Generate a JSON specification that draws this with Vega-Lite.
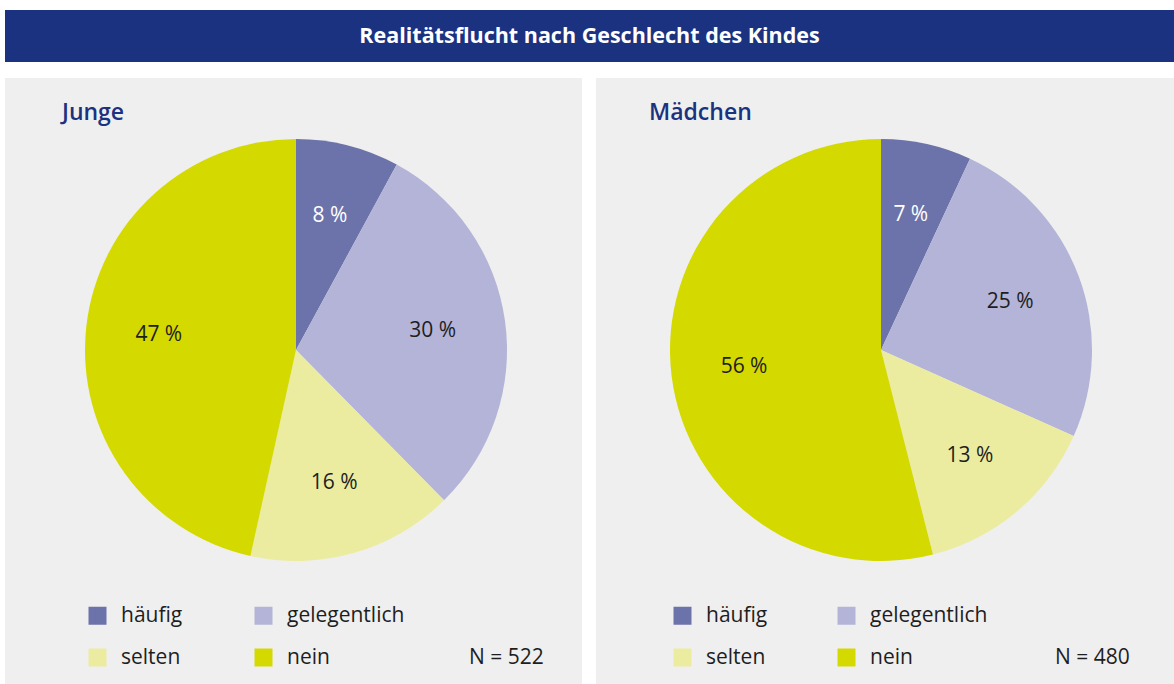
{
  "$schema": "https://vega.github.io/schema/vega-lite/v6.json",
  "padding": {"left": 5, "top": 10, "right": 0, "bottom": 0},
  "background": "white",
  "config": {"view": {"stroke": null}, "font": "Open Sans", "title": {"font": "Open Sans"}},
  "spacing": 16,
  "vconcat": [
    {
      "width": 1169,
      "height": 52,
      "view": {"fill": "#1b3281", "stroke": null},
      "data": {"values": [{"titel": "Realitätsflucht nach Geschlecht des Kindes"}]},
      "mark": {"type": "text", "color": "#ffffff", "fontSize": 21.5, "fontWeight": "bold", "baseline": "middle", "align": "center", "font": "Open Sans", "dy": 1},
      "encoding": {"text": {"field": "titel", "type": "nominal"}}
    },
    {
      "spacing": 14,
      "resolve": {"scale": {"color": "independent"}, "legend": {"color": "independent"}},
      "hconcat": [
        {
          "width": 577,
          "height": 606,
          "view": {"fill": "#efefef", "stroke": null},
          "title": {"text": "Junge", "anchor": "start", "frame": "group", "dx": 57, "offset": -65, "baseline": "alphabetic", "fontSize": 23, "fontWeight": 600, "color": "#1b3281"},
          "data": {"values": [
            {"kat": "häufig", "rang": 1, "anteil": 8, "label": "8 %"},
            {"kat": "gelegentlich", "rang": 2, "anteil": 30, "label": "30 %"},
            {"kat": "selten", "rang": 3, "anteil": 16, "label": "16 %"},
            {"kat": "nein", "rang": 4, "anteil": 47, "label": "47 %"}
          ]},
          "encoding": {
            "theta": {"field": "anteil", "type": "quantitative", "stack": true},
            "order": {"field": "rang", "type": "quantitative"},
            "x": {"datum": 291, "type": "quantitative", "scale": {"domain": [0, 577], "nice": false, "zero": false}, "axis": null},
            "y": {"datum": 334, "type": "quantitative", "scale": {"domain": [0, 606], "nice": false, "zero": false}, "axis": null}
          },
          "layer": [
            {
              "mark": {"type": "arc", "outerRadius": 211, "strokeWidth": 0},
              "encoding": {
                "color": {
                  "field": "kat", "type": "nominal",
                  "scale": {"domain": ["häufig", "gelegentlich", "selten", "nein"], "range": ["#6c72aa", "#b3b4d7", "#ebeca0", "#d4d900"]},
                  "legend": {
                    "orient": "none", "legendX": 82, "legendY": 527, "direction": "horizontal", "columns": 2,
                    "symbolType": "square", "symbolSize": 324, "symbolStrokeWidth": 0, "symbolOpacity": 1,
                    "labelFontSize": 21, "labelFont": "Open Sans", "labelColor": "#1e1e1e", "labelOffset": 13,
                    "rowPadding": 20, "columnPadding": 70, "padding": 0,
                    "title": "N = 522", "titleOrient": "right", "titleAnchor": "end", "titleFontSize": 21,
                    "titleFont": "Open Sans", "titleFontWeight": "normal", "titleColor": "#1e1e1e", "titlePadding": 65
                  }
                }
              }
            },
            {
              "mark": {"type": "text", "radius": 138, "fontSize": 21, "font": "Open Sans"},
              "encoding": {
                "text": {"field": "label", "type": "nominal"},
                "fill": {"condition": {"test": "datum.kat === 'häufig'", "value": "#ffffff"}, "value": "#1e1e1e"}
              }
            }
          ]
        },
        {
          "width": 578,
          "height": 606,
          "view": {"fill": "#efefef", "stroke": null},
          "title": {"text": "Mädchen", "anchor": "start", "frame": "group", "dx": 53, "offset": -65, "baseline": "alphabetic", "fontSize": 23, "fontWeight": 600, "color": "#1b3281"},
          "data": {"values": [
            {"kat": "häufig", "rang": 1, "anteil": 7, "label": "7 %"},
            {"kat": "gelegentlich", "rang": 2, "anteil": 25, "label": "25 %"},
            {"kat": "selten", "rang": 3, "anteil": 14.5, "label": "13 %"},
            {"kat": "nein", "rang": 4, "anteil": 54.5, "label": "56 %"}
          ]},
          "encoding": {
            "theta": {"field": "anteil", "type": "quantitative", "stack": true},
            "order": {"field": "rang", "type": "quantitative"},
            "x": {"datum": 285, "type": "quantitative", "scale": {"domain": [0, 578], "nice": false, "zero": false}, "axis": null},
            "y": {"datum": 334, "type": "quantitative", "scale": {"domain": [0, 606], "nice": false, "zero": false}, "axis": null}
          },
          "layer": [
            {
              "mark": {"type": "arc", "outerRadius": 211, "strokeWidth": 0},
              "encoding": {
                "color": {
                  "field": "kat", "type": "nominal",
                  "scale": {"domain": ["häufig", "gelegentlich", "selten", "nein"], "range": ["#6c72aa", "#b3b4d7", "#ebeca0", "#d4d900"]},
                  "legend": {
                    "orient": "none", "legendX": 76, "legendY": 527, "direction": "horizontal", "columns": 2,
                    "symbolType": "square", "symbolSize": 324, "symbolStrokeWidth": 0, "symbolOpacity": 1,
                    "labelFontSize": 21, "labelFont": "Open Sans", "labelColor": "#1e1e1e", "labelOffset": 13,
                    "rowPadding": 20, "columnPadding": 68, "padding": 0,
                    "title": "N = 480", "titleOrient": "right", "titleAnchor": "end", "titleFontSize": 21,
                    "titleFont": "Open Sans", "titleFontWeight": "normal", "titleColor": "#1e1e1e", "titlePadding": 68
                  }
                }
              }
            },
            {
              "mark": {"type": "text", "radius": 138, "fontSize": 21, "font": "Open Sans"},
              "encoding": {
                "text": {"field": "label", "type": "nominal"},
                "fill": {"condition": {"test": "datum.kat === 'häufig'", "value": "#ffffff"}, "value": "#1e1e1e"}
              }
            }
          ]
        }
      ]
    }
  ]
}
